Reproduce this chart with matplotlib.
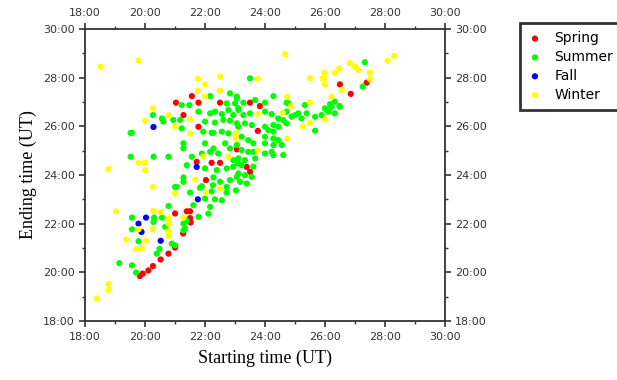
import matplotlib.pyplot as plt
from matplotlib.ticker import MultipleLocator, FuncFormatter

# decimal hours (UT), values > 24 mean next day
spring_start = [19.83, 19.92, 20.11, 20.26, 20.52, 20.78, 21.0, 21.27, 21.52, 21.5, 21.39, 21.5,
                21.0, 21.03, 21.78, 22.5, 21.28, 21.78, 21.56, 21.72, 22.22, 22.5, 22.03,
                23.5, 23.83, 23.76, 23.06, 23.39, 23.5, 26.5, 26.86, 27.39]
spring_end = [19.85, 19.95, 20.08, 20.26, 20.53, 20.77, 21.02, 21.6, 22.05, 22.23, 22.51, 22.51,
              22.42, 26.97, 26.97, 26.97, 26.46, 25.98, 27.24, 24.54, 24.5, 24.5, 23.79,
              26.97, 26.83, 25.81, 25.05, 24.33, 24.13, 27.72, 27.33, 27.79]

summer_start = [
    # upper band
    19.52, 19.52, 23.5, 21.22, 21.48, 22.72, 23.0, 22.83, 23.06, 22.17, 20.26, 20.56, 21.78,
    22.17, 22.33, 22.56, 22.78, 22.94, 23.11, 20.61, 20.94, 21.17, 22.0, 22.33, 22.61, 22.83,
    23.06, 19.56, 21.22, 21.94, 22.22, 22.56, 22.78, 21.28, 21.28, 22.0, 22.28, 22.67, 22.83,
    23.06, 20.28, 20.78, 21.56, 21.89, 22.17, 22.44, 22.94, 23.11, 22.0, 22.39, 22.72, 22.94,
    21.28, 21.28, 22.28, 22.5, 22.83, 23.06, 21.0, 22.72, 22.28,
    # around 23-25 h start
    23.06, 23.28, 23.67, 24.0, 24.28, 24.72, 25.33, 26.0, 26.17, 26.33, 26.5, 23.11, 23.28,
    23.5, 24.0, 24.22, 24.44, 24.72, 24.89, 25.11, 25.22, 25.39, 25.67, 25.89, 26.11, 26.33,
    23.11, 23.33, 23.56, 24.0, 24.11, 24.28, 24.28, 24.44, 24.72, 25.67, 23.22, 23.44, 23.61,
    24.0, 24.0, 24.28, 24.28, 24.44, 24.56, 24.22, 23.22, 23.44, 23.61, 24.0, 24.28, 24.61,
    23.11, 23.33, 23.67, 23.22, 23.61, 23.11, 23.33, 23.56, 23.17, 23.39, 27.33, 27.26,
    24.78, 26.22, 26.48, 26.06, 25.0, 24.61,
    # lower band
    21.06, 21.5, 21.83, 22.22, 22.72, 23.03, 22.0, 22.33, 22.56, 22.17, 22.11, 21.78, 21.61,
    20.78, 20.3, 19.56, 19.56, 20.56, 20.67, 21.28, 21.33, 21.28, 19.78, 20.48, 20.39, 20.89,
    21.0, 19.56, 19.7, 19.14, 21.39, 20.28, 22.26, 21.89, 21.39]
summer_end = [
    25.73, 24.75, 27.97, 26.87, 26.87, 26.94, 26.94, 27.35, 27.22, 27.24, 26.46, 26.32, 26.6,
    26.53, 26.6, 26.5, 26.67, 26.46, 26.74, 26.19, 26.26, 26.26, 26.19, 26.15, 26.26, 26.23,
    26.12, 25.73, 25.91, 25.78, 25.73, 25.78, 25.71, 25.3, 25.09, 25.3, 25.09, 25.3, 25.09,
    25.23, 24.75, 24.75, 24.75, 24.88, 24.95, 24.88, 24.61, 24.47, 24.27, 24.2, 24.27, 24.34,
    23.9, 23.72, 23.9, 23.72, 23.79, 23.92, 23.51, 23.51, 25.73,
    27.15, 26.97, 27.08, 26.97, 27.24, 26.97, 26.87, 26.74, 26.91, 27.01, 26.8, 26.67, 26.46,
    26.53, 26.6, 26.5, 26.32, 26.6, 26.39, 26.53, 26.32, 26.53, 26.39, 26.46, 26.6, 26.53,
    25.98, 26.12, 26.05, 25.98, 25.84, 26.05, 25.78, 25.98, 26.12, 25.82, 25.57, 25.43, 25.3,
    25.57, 25.3, 25.5, 25.23, 25.43, 25.23, 24.95, 25.02, 24.95, 24.95, 24.88, 24.82, 24.82,
    24.68, 24.61, 24.68, 24.4, 24.34, 24.06, 23.99, 23.92, 23.72, 23.65, 28.63, 27.63,
    26.94, 26.8, 26.83, 26.67, 26.46, 26.25,
    23.51, 23.28, 23.47, 23.33, 23.28, 23.37, 23.03, 23.0, 22.96, 22.69, 22.41, 22.28, 22.76,
    22.73, 22.25, 22.25, 21.77, 22.25, 21.87, 22.0, 21.8, 21.73, 21.28, 20.97, 20.77, 21.18,
    21.11, 20.29, 19.99, 20.38, 22.11, 22.07, 23.58, 23.54, 24.4]

fall_start = [20.28, 21.72, 21.76, 20.03, 19.78, 19.88, 20.52]
fall_end = [25.97, 24.33, 23.0, 22.25, 22.0, 21.66, 21.3]

winter_start = [
    18.52, 19.78, 21.76, 22.0, 22.5, 21.76, 22.5, 23.76, 18.78, 20.26, 20.0, 20.78, 21.0, 21.5,
    21.5, 23.03, 23.03, 22.78, 21.94, 19.78, 20.0, 20.0, 20.26, 21.67, 22.0, 23.76, 23.76,
    24.87, 24.67, 26.83, 27.0, 27.11, 28.09, 28.31, 26.48, 26.33, 25.98, 25.98, 25.92, 26.0,
    25.5, 26.56, 27.5, 27.5, 26.22, 25.5, 24.74, 24.59, 26.0, 25.5, 25.26, 24.74,
    21.0, 22.03, 22.5, 19.7, 19.89, 20.26, 20.78, 20.78, 20.78, 20.78, 20.52, 19.78, 21.28,
    19.03, 19.37, 18.78, 18.78, 18.39, 20.28, 20.03]
winter_end = [
    28.45, 28.7, 27.95, 27.72, 28.04, 27.46, 27.46, 27.95, 24.25, 26.74, 26.23, 26.46, 25.98,
    26.28, 25.71, 25.71, 25.5, 24.75, 24.75, 24.5, 24.5, 24.2, 23.51, 23.81, 27.22, 26.5, 25.0,
    26.83, 28.96, 28.59, 28.45, 28.31, 28.7, 28.89, 28.38, 28.2, 28.2, 27.97, 27.97, 27.72,
    27.97, 27.49, 28.2, 27.93, 27.21, 26.98, 27.21, 26.56, 26.28, 26.14, 25.98, 25.49,
    23.24, 23.28, 23.44, 20.95, 21.0, 21.77, 22.21, 22.0, 21.7, 21.49, 22.48, 21.77, 22.25,
    22.51, 21.35, 19.53, 19.29, 18.92, 22.52, 21.29]

seasons = ["Spring", "Summer", "Fall", "Winter"]
season_colors = ["#ff0000", "#00ff00", "#0000ff", "#ffff00"]


def hour_label(x, pos):
    return "%02d:00" % int(round(x))


fig = plt.figure(figsize=(6.17, 3.8), dpi=100)
ax = fig.add_axes([0.138, 0.155, 0.583, 0.769])

data = [(spring_start, spring_end), (summer_start, summer_end),
        (fall_start, fall_end), (winter_start, winter_end)]
handles = []
for (xs, ys), name, color in zip(data, seasons, season_colors):
    h = ax.scatter(xs, ys, s=20, color=color, edgecolors="none", label=name, zorder=3)
    handles.append(h)

ax.set_xlim(18, 30)
ax.set_ylim(18, 30)
for axis in (ax.xaxis, ax.yaxis):
    axis.set_major_locator(MultipleLocator(2))
    axis.set_minor_locator(MultipleLocator(1))
    axis.set_major_formatter(FuncFormatter(hour_label))

ax.tick_params(which="both", direction="out", top=True, right=True,
               labeltop=True, labelright=True, labelsize=8, labelcolor="#333333",
               color="#333333")
ax.tick_params(which="major", length=4, width=1.2)
ax.tick_params(which="minor", length=2.5, width=1.0)
for sp in ax.spines.values():
    sp.set_linewidth(1.3)
    sp.set_color("#333333")

ax.set_xlabel("Starting time (UT)", family="Liberation Serif", fontsize=13, labelpad=6)
ax.set_ylabel("Ending time (UT)", family="Liberation Serif", fontsize=13, labelpad=4)

leg = fig.legend(handles=handles, loc="upper left", bbox_to_anchor=(0.831, 0.958),
                 frameon=True, fancybox=False, fontsize=10, handletextpad=0.9,
                 markerscale=1.0, borderpad=0.6, labelspacing=0.35, handlelength=1.0)
leg.get_frame().set_edgecolor("black")
leg.get_frame().set_linewidth(2.0)

fig.savefig("out.png", dpi=100)
